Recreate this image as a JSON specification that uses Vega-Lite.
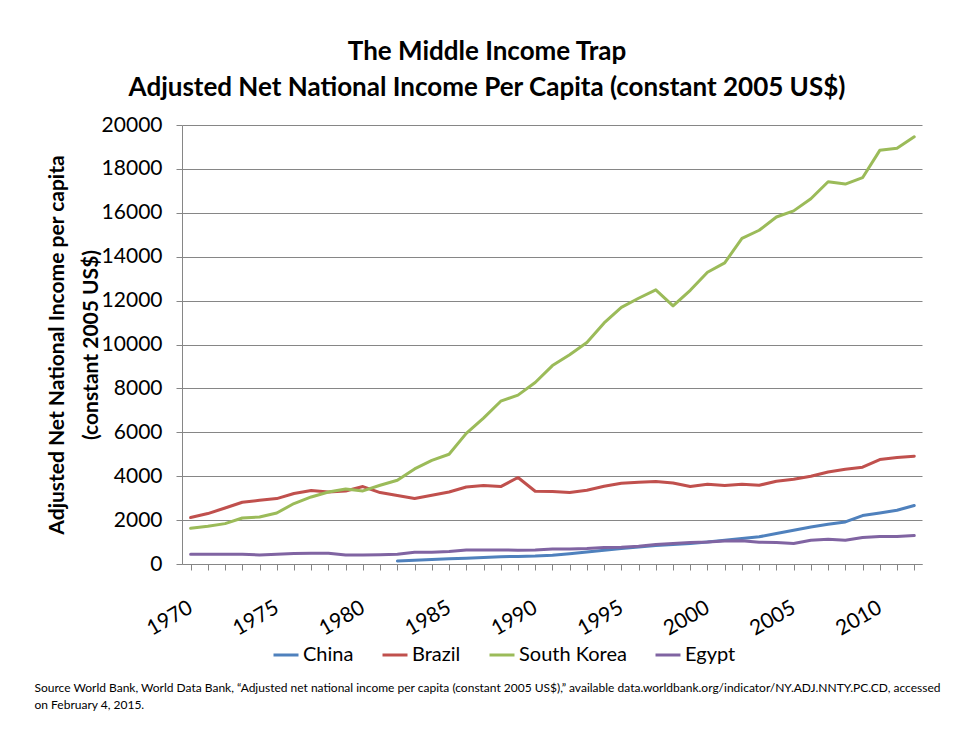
{
  "$schema": "https://vega.github.io/schema/vega-lite/v6.json",
  "autosize": {"type": "none"},
  "width": 740,
  "height": 439,
  "padding": {"left": 182, "top": 125, "right": 53, "bottom": 171},
  "background": "white",
  "title": {
    "text": ["The Middle Income Trap", "Adjusted Net National Income Per Capita (constant 2005 US$)"],
    "font": "Lato",
    "fontSize": 26,
    "fontWeight": "bold",
    "color": "black",
    "anchor": "middle",
    "frame": "group",
    "dx": -65,
    "offset": 13,
    "lineHeight": 36
  },
  "data": {"values": [
    {"year":1970,"country":"Brazil","value":2115},{"year":1971,"country":"Brazil","value":2298},{"year":1972,"country":"Brazil","value":2553},{"year":1973,"country":"Brazil","value":2813},{"year":1974,"country":"Brazil","value":2904},{"year":1975,"country":"Brazil","value":2981},{"year":1976,"country":"Brazil","value":3209},{"year":1977,"country":"Brazil","value":3346},{"year":1978,"country":"Brazil","value":3283},{"year":1979,"country":"Brazil","value":3328},{"year":1980,"country":"Brazil","value":3528},{"year":1981,"country":"Brazil","value":3255},{"year":1982,"country":"Brazil","value":3118},{"year":1983,"country":"Brazil","value":2981},{"year":1984,"country":"Brazil","value":3132},{"year":1985,"country":"Brazil","value":3283},{"year":1986,"country":"Brazil","value":3510},{"year":1987,"country":"Brazil","value":3574},{"year":1988,"country":"Brazil","value":3528},{"year":1989,"country":"Brazil","value":3939},{"year":1990,"country":"Brazil","value":3314},{"year":1991,"country":"Brazil","value":3300},{"year":1992,"country":"Brazil","value":3255},{"year":1993,"country":"Brazil","value":3360},{"year":1994,"country":"Brazil","value":3542},{"year":1995,"country":"Brazil","value":3679},{"year":1996,"country":"Brazil","value":3725},{"year":1997,"country":"Brazil","value":3756},{"year":1998,"country":"Brazil","value":3693},{"year":1999,"country":"Brazil","value":3528},{"year":2000,"country":"Brazil","value":3634},{"year":2001,"country":"Brazil","value":3574},{"year":2002,"country":"Brazil","value":3634},{"year":2003,"country":"Brazil","value":3588},{"year":2004,"country":"Brazil","value":3770},{"year":2005,"country":"Brazil","value":3861},{"year":2006,"country":"Brazil","value":3998},{"year":2007,"country":"Brazil","value":4194},{"year":2008,"country":"Brazil","value":4317},{"year":2009,"country":"Brazil","value":4408},{"year":2010,"country":"Brazil","value":4759},{"year":2011,"country":"Brazil","value":4850},{"year":2012,"country":"Brazil","value":4910},
    {"year":1970,"country":"South Korea","value":1628},{"year":1971,"country":"South Korea","value":1719},{"year":1972,"country":"South Korea","value":1840},{"year":1973,"country":"South Korea","value":2097},{"year":1974,"country":"South Korea","value":2143},{"year":1975,"country":"South Korea","value":2325},{"year":1976,"country":"South Korea","value":2754},{"year":1977,"country":"South Korea","value":3055},{"year":1978,"country":"South Korea","value":3283},{"year":1979,"country":"South Korea","value":3419},{"year":1980,"country":"South Korea","value":3328},{"year":1981,"country":"South Korea","value":3588},{"year":1982,"country":"South Korea","value":3816},{"year":1983,"country":"South Korea","value":4333},{"year":1984,"country":"South Korea","value":4718},{"year":1985,"country":"South Korea","value":5000},{"year":1986,"country":"South Korea","value":5950},{"year":1987,"country":"South Korea","value":6648},{"year":1988,"country":"South Korea","value":7417},{"year":1989,"country":"South Korea","value":7694},{"year":1990,"country":"South Korea","value":8268},{"year":1991,"country":"South Korea","value":9040},{"year":1992,"country":"South Korea","value":9532},{"year":1993,"country":"South Korea","value":10088},{"year":1994,"country":"South Korea","value":10983},{"year":1995,"country":"South Korea","value":11694},{"year":1996,"country":"South Korea","value":12108},{"year":1997,"country":"South Korea","value":12490},{"year":1998,"country":"South Korea","value":11756},{"year":1999,"country":"South Korea","value":12470},{"year":2000,"country":"South Korea","value":13290},{"year":2001,"country":"South Korea","value":13720},{"year":2002,"country":"South Korea","value":14839},{"year":2003,"country":"South Korea","value":15205},{"year":2004,"country":"South Korea","value":15808},{"year":2005,"country":"South Korea","value":16087},{"year":2006,"country":"South Korea","value":16640},{"year":2007,"country":"South Korea","value":17415},{"year":2008,"country":"South Korea","value":17310},{"year":2009,"country":"South Korea","value":17600},{"year":2010,"country":"South Korea","value":18845},{"year":2011,"country":"South Korea","value":18940},{"year":2012,"country":"South Korea","value":19460},
    {"year":1982,"country":"China","value":140},{"year":1983,"country":"China","value":170},{"year":1984,"country":"China","value":200},{"year":1985,"country":"China","value":235},{"year":1986,"country":"China","value":265},{"year":1987,"country":"China","value":300},{"year":1988,"country":"China","value":335},{"year":1989,"country":"China","value":345},{"year":1990,"country":"China","value":360},{"year":1991,"country":"China","value":400},{"year":1992,"country":"China","value":465},{"year":1993,"country":"China","value":547},{"year":1994,"country":"China","value":624},{"year":1995,"country":"China","value":702},{"year":1996,"country":"China","value":775},{"year":1997,"country":"China","value":839},{"year":1998,"country":"China","value":884},{"year":1999,"country":"China","value":930},{"year":2000,"country":"China","value":1003},{"year":2001,"country":"China","value":1080},{"year":2002,"country":"China","value":1158},{"year":2003,"country":"China","value":1240},{"year":2004,"country":"China","value":1386},{"year":2005,"country":"China","value":1536},{"year":2006,"country":"China","value":1687},{"year":2007,"country":"China","value":1810},{"year":2008,"country":"China","value":1915},{"year":2009,"country":"China","value":2207},{"year":2010,"country":"China","value":2325},{"year":2011,"country":"China","value":2448},{"year":2012,"country":"China","value":2662},
    {"year":1970,"country":"Egypt","value":442},{"year":1971,"country":"Egypt","value":442},{"year":1972,"country":"Egypt","value":442},{"year":1973,"country":"Egypt","value":442},{"year":1974,"country":"Egypt","value":410},{"year":1975,"country":"Egypt","value":442},{"year":1976,"country":"Egypt","value":474},{"year":1977,"country":"Egypt","value":488},{"year":1978,"country":"Egypt","value":488},{"year":1979,"country":"Egypt","value":410},{"year":1980,"country":"Egypt","value":410},{"year":1981,"country":"Egypt","value":420},{"year":1982,"country":"Egypt","value":442},{"year":1983,"country":"Egypt","value":533},{"year":1984,"country":"Egypt","value":540},{"year":1985,"country":"Egypt","value":565},{"year":1986,"country":"Egypt","value":638},{"year":1987,"country":"Egypt","value":638},{"year":1988,"country":"Egypt","value":638},{"year":1989,"country":"Egypt","value":630},{"year":1990,"country":"Egypt","value":638},{"year":1991,"country":"Egypt","value":684},{"year":1992,"country":"Egypt","value":684},{"year":1993,"country":"Egypt","value":702},{"year":1994,"country":"Egypt","value":748},{"year":1995,"country":"Egypt","value":760},{"year":1996,"country":"Egypt","value":807},{"year":1997,"country":"Egypt","value":884},{"year":1998,"country":"Egypt","value":930},{"year":1999,"country":"Egypt","value":976},{"year":2000,"country":"Egypt","value":1003},{"year":2001,"country":"Egypt","value":1049},{"year":2002,"country":"Egypt","value":1060},{"year":2003,"country":"Egypt","value":989},{"year":2004,"country":"Egypt","value":976},{"year":2005,"country":"Egypt","value":930},{"year":2006,"country":"Egypt","value":1080},{"year":2007,"country":"Egypt","value":1126},{"year":2008,"country":"Egypt","value":1080},{"year":2009,"country":"Egypt","value":1204},{"year":2010,"country":"Egypt","value":1249},{"year":2011,"country":"Egypt","value":1249},{"year":2012,"country":"Egypt","value":1295}
  ]},
  "mark": {"type": "line", "strokeWidth": 3, "strokeJoin": "round", "strokeCap": "round"},
  "encoding": {
    "x": {
      "field": "year",
      "type": "quantitative",
      "scale": {"domain": [1969.5, 2012.45], "nice": false, "zero": false},
      "axis": {
        "values": [1970,1971,1972,1973,1974,1975,1976,1977,1978,1979,1980,1981,1982,1983,1984,1985,1986,1987,1988,1989,1990,1991,1992,1993,1994,1995,1996,1997,1998,1999,2000,2001,2002,2003,2004,2005,2006,2007,2008,2009,2010,2011,2012],
        "labelExpr": "datum.value % 5 == 0 ? datum.value : ''",
        "labelAngle": -30,
        "labelAlign": "right",
        "labelBaseline": "middle",
        "labelPadding": 36,
        "labelOverlap": false,
        "labelFont": "Lato",
        "labelFontSize": 21,
        "labelColor": "black",
        "grid": false,
        "tickSize": 6,
        "tickColor": "#868686",
        "domainColor": "#868686",
        "title": ["Source World Bank, World Data Bank, “Adjusted net national income per capita (constant 2005 US$),”  available data.worldbank.org/indicator/NY.ADJ.NNTY.PC.CD,  accessed", "on February 4, 2015."],
        "titleFont": "Lato",
        "titleFontSize": 12,
        "titleFontWeight": "normal",
        "titleColor": "black",
        "titleAnchor": "start",
        "titleAlign": "left",
        "titleBaseline": "top",
        "titleLineHeight": 17,
        "titleX": -148,
        "titleY": 118
      }
    },
    "y": {
      "field": "value",
      "type": "quantitative",
      "scale": {"domain": [0, 20000], "nice": false},
      "axis": {
        "values": [0,2000,4000,6000,8000,10000,12000,14000,16000,18000,20000],
        "format": "d",
        "labelFont": "Lato",
        "labelFontSize": 21,
        "labelColor": "black",
        "labelPadding": 14,
        "gridColor": "#868686",
        "tickColor": "#868686",
        "domainColor": "#868686",
        "tickSize": 6,
        "title": ["Adjusted Net National Income per capita", "(constant 2005 US$)"],
        "titleFont": "Lato",
        "titleFontSize": 21,
        "titleFontWeight": "bold",
        "titleColor": "black",
        "titleLineHeight": 34,
        "titlePadding": 0
      }
    },
    "color": {
      "field": "country",
      "type": "nominal",
      "scale": {"domain": ["China", "Brazil", "South Korea", "Egypt"], "range": ["#4F81BD", "#C0504D", "#9BBB59", "#8064A2"]},
      "legend": {
        "orient": "none",
        "legendX": 90,
        "legendY": 516,
        "direction": "horizontal",
        "title": null,
        "labelFont": "Lato",
        "labelFontSize": 20,
        "labelColor": "black",
        "symbolType": "stroke",
        "symbolStrokeWidth": 3,
        "symbolSize": 625,
        "labelOffset": 3,
        "columnPadding": 22
      }
    }
  },
  "config": {"view": {"stroke": null}}
}
